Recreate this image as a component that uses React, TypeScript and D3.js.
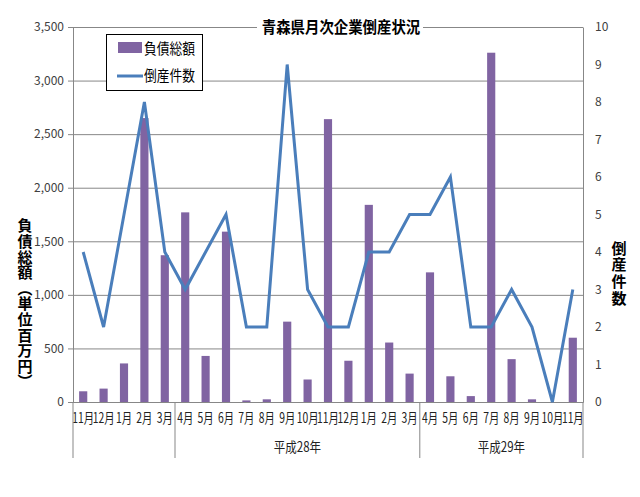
import { useRef, useEffect } from "react";
import * as d3 from "d3";

const months = [
  "11月", "12月", "1月", "2月", "3月",
  "4月", "5月", "6月", "7月", "8月", "9月", "10月", "11月", "12月", "1月", "2月", "3月",
  "4月", "5月", "6月", "7月", "8月", "9月", "10月", "11月",
];
// 負債総額 (百万円)
const debt = [100, 125, 360, 2650, 1370, 1770, 430, 1590, 15, 25, 750, 210, 2640, 385, 1840, 555, 265, 1210, 240, 55, 3260, 400, 25, 0, 600];
// 倒産件数
const cases = [4, 2, 5, 8, 4, 3, 4, 5, 2, 2, 9, 3, 2, 2, 4, 4, 5, 5, 6, 2, 2, 3, 2, 0, 3];
const yearGroups = [
  { label: "", start: 0, end: 5 },
  { label: "平成28年", start: 5, end: 17 },
  { label: "平成29年", start: 17, end: 25 },
];
const leftTicks = [0, 500, 1000, 1500, 2000, 2500, 3000, 3500];
const rightTicks = [0, 1, 2, 3, 4, 5, 6, 7, 8, 9, 10];

const W = 640, H = 497;
const FONT = "'Noto Sans CJK JP', 'Noto Sans', sans-serif";
const GRID = "#878787";
const BAR = "#8064A2";
const LINE = "#4A7EBB";

export default function App() {
  const svgRef = useRef<SVGSVGElement>(null);

  useEffect(() => {
    if (!svgRef.current) return;
    const svg = d3.select(svgRef.current);
    svg.selectAll("*").remove();

    const left = 73, right = 583, top = 27, bottom = 402;

    const x = d3.scaleBand<number>()
      .domain(months.map((_, i) => i))
      .range([left, right])
      .paddingInner(0.6)
      .paddingOuter(0.3);
    const step = x.step();
    const cx = (i: number) => (x(i) ?? 0) + x.bandwidth() / 2;
    const yL = d3.scaleLinear().domain([0, 3500]).range([bottom, top]);
    const yR = d3.scaleLinear().domain([0, 10]).range([bottom, top]);

    svg.append("rect").attr("width", W).attr("height", H).attr("fill", "#fff");

    // grid
    svg.append("g")
      .attr("transform", `translate(${left},0)`)
      .call(d3.axisLeft(yL).tickValues(leftTicks).tickSize(-(right - left)).tickFormat(() => ""))
      .call(g => { g.select(".domain").remove(); g.selectAll("line").attr("stroke", GRID); });

    // left axis
    svg.append("g")
      .attr("transform", `translate(${left},0)`)
      .call(d3.axisLeft(yL).tickValues(leftTicks).tickSize(5).tickSizeOuter(0).tickPadding(4).tickFormat(d3.format(",")))
      .call(g => {
        g.select(".domain").attr("stroke", GRID);
        g.selectAll("line").attr("stroke", GRID);
        g.selectAll("text").attr("fill", "#404040").attr("font-size", 12).attr("font-family", FONT);
      });

    // right axis
    svg.append("g")
      .attr("transform", `translate(${right},0)`)
      .call(d3.axisRight(yR).tickValues(rightTicks).tickSize(0).tickSizeOuter(0).tickPadding(12))
      .call(g => {
        g.select(".domain").attr("stroke", GRID);
        g.selectAll("text").attr("fill", "#404040").attr("font-size", 12).attr("font-family", FONT);
      });

    // bottom axis
    svg.append("g")
      .attr("transform", `translate(0,${bottom})`)
      .call(d3.axisBottom(x).tickSize(0).tickSizeOuter(0).tickPadding(11).tickFormat(i => months[i as number]))
      .call(g => {
        g.select(".domain").attr("stroke", GRID);
        g.selectAll("text")
          .attr("fill", "#222")
          .attr("font-size", 14)
          .attr("font-family", FONT)
          .attr("transform", "scale(0.74,1)");
      });

    // group dividers and year labels
    const edges = [0, ...yearGroups.map(g => g.end)];
    svg.append("g").selectAll("line").data(edges).join("line")
      .attr("x1", d => left + step * d).attr("x2", d => left + step * d)
      .attr("y1", bottom).attr("y2", 458)
      .attr("stroke", GRID);
    svg.append("g").selectAll("text").data(yearGroups.filter(g => g.label)).join("text")
      .attr("transform", d => `translate(${left + step * (d.start + d.end) / 2},452) scale(0.82,1)`)
      .attr("text-anchor", "middle")
      .attr("font-size", 14)
      .attr("font-family", FONT)
      .attr("fill", "#222")
      .text(d => d.label);

    // bars
    svg.append("g").selectAll("rect").data(debt).join("rect")
      .attr("x", (_, i) => x(i) ?? 0)
      .attr("width", x.bandwidth())
      .attr("y", d => yL(d))
      .attr("height", d => yL(0) - yL(d))
      .attr("fill", BAR);

    // line
    const line = d3.line<number>().x((_, i) => cx(i)).y(d => yR(d));
    svg.append("path")
      .datum(cases)
      .attr("d", line)
      .attr("fill", "none")
      .attr("stroke", LINE)
      .attr("stroke-width", 3)
      .attr("stroke-linejoin", "miter");

    // title
    svg.append("rect").attr("x", 257).attr("y", 16).attr("width", 166).attr("height", 22).attr("fill", "#fff");
    svg.append("text")
      .attr("transform", "translate(341,33) scale(0.9,1)")
      .attr("text-anchor", "middle")
      .attr("font-size", 16)
      .attr("font-weight", "bold")
      .attr("font-family", FONT)
      .attr("fill", "#000")
      .text("青森県月次企業倒産状況");

    // axis titles, vertical writing
    const vTitle = (t: string, xc: number, yc: number, spacing: number) => {
      svg.append("text")
        .attr("x", xc).attr("y", yc)
        .attr("text-anchor", "middle")
        .style("writing-mode", "vertical-rl")
        .attr("font-size", 15)
        .attr("letter-spacing", spacing)
        .attr("font-weight", "bold")
        .attr("font-family", FONT)
        .attr("fill", "#000")
        .text(t);
    };
    vTitle("負債総額（単位百万円）", 25, 304, 0.6);
    vTitle("倒産件数", 619, 274, 1.8);

    // legend
    const lg = svg.append("g");
    lg.append("rect").attr("x", 106.5).attr("y", 34.5).attr("width", 96).attr("height", 56)
      .attr("fill", "#fff").attr("stroke", "#000");
    lg.append("rect").attr("x", 118).attr("y", 42).attr("width", 24).attr("height", 11).attr("fill", BAR);
    lg.append("line").attr("x1", 117).attr("x2", 143).attr("y1", 76).attr("y2", 76)
      .attr("stroke", LINE).attr("stroke-width", 3);
    [{ t: "負債総額", y: 54 }, { t: "倒産件数", y: 81 }].forEach(d => {
      lg.append("text")
        .attr("transform", `translate(144,${d.y}) scale(0.85,1)`)
        .attr("font-size", 15)
        .attr("font-family", FONT)
        .attr("fill", "#000")
        .text(d.t);
    });
  }, []);

  return (
    <div style={{ position: "absolute", left: 0, top: 0 }}>
      <svg ref={svgRef} width={W} height={H} style={{ display: "block" }} />
    </div>
  );
}
